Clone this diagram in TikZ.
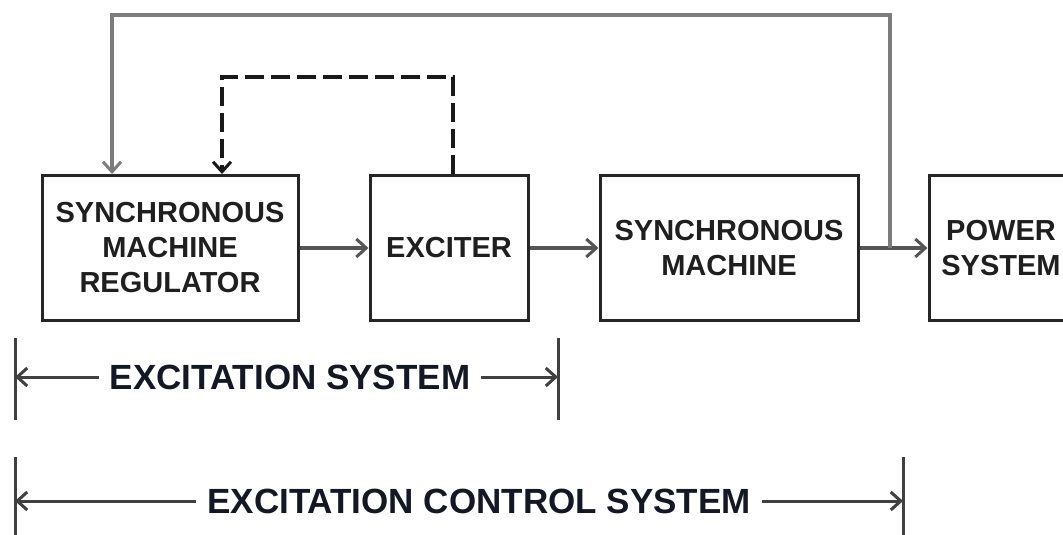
\documentclass[tikz,border=0pt]{standalone}
\usepackage{fontspec}
\setmainfont{Liberation Sans}
\usetikzlibrary{arrows.meta}
\definecolor{boxline}{HTML}{262626}
\definecolor{wire}{HTML}{555555}
\definecolor{fbwire}{HTML}{7C7C7C}
\definecolor{labeltext}{HTML}{141824}
\tikzset{
  block/.style={draw=boxline, line width=3pt, rectangle, inner sep=0pt,
    minimum height=145pt, align=center, text=black!88,
    font=\fontsize{29}{35}\selectfont\bfseries},
  tip/.style={-{Straight Barb[length=10pt,width=18pt,line width=3pt]}},
  conn/.style={draw=wire, line width=3.2pt, tip},
  fbline/.style={draw=fbwire, line width=3.4pt, tip},
  dashline/.style={draw=black!90, line width=3.4pt, dash pattern=on 19pt off 7pt, tip},
  bar/.style={draw=black!75, line width=3pt},
  dimarrow/.style={draw=black!75, line width=3pt, tip},
  dimlabel/.style={inner ysep=0pt, text=labeltext,
    font=\fontsize{35}{40}\selectfont\bfseries}
}
\begin{document}
\begin{tikzpicture}[x=1pt, y=-1pt]
  \useasboundingbox (0,0) rectangle (1063,535);
  \clip (0,0) rectangle (1063,535);

  % blocks of the loop
  \node[block, minimum width=256pt] (smr) at (170,248) {SYNCHRONOUS\\MACHINE\\REGULATOR};
  \node[block, minimum width=158pt] (exc) at (449,248) {EXCITER};
  \node[block, minimum width=258pt] (sm)  at (729,248) {SYNCHRONOUS\\MACHINE};
  \node[block, minimum width=144pt] (ps)  at (1001,248) {POWER\\SYSTEM};

  % forward path
  \draw[conn] (smr.east) -- (exc.west);
  \draw[conn] (exc.east) -- (sm.west);
  \draw[conn] (sm.east) -- (ps.west);

  % measured output fed back to the regulator
  \coordinate (tap) at (890,248);
  \coordinate (fbR) at (890,15);
  \coordinate (fbL) at (112,15);
  \draw[fbline] (tap) -- (fbR) -- (fbL) -- (fbL |- smr.north);

  % exciter feedback (dashed)
  \coordinate (dR) at (453,77);
  \coordinate (dL) at (222,77);
  \draw[dashline] (dR |- exc.north) -- (dR) -- (dL) -- (dL |- smr.north);

  % extent of the excitation system
  \coordinate (a1t) at (15,338);   \coordinate (a1b) at (15,420);
  \coordinate (a2t) at (558,338);  \coordinate (a2b) at (558,420);
  \draw[bar] (a1t) -- (a1b);
  \draw[bar] (a2t) -- (a2b);
  \node[dimlabel, inner xsep=11pt] (es) at (290,377) {EXCITATION SYSTEM};
  \draw[dimarrow] (es.west) -- (es.west -| a1t);
  \draw[dimarrow] (es.east) -- (es.east -| a2t);

  % extent of the excitation control system
  \coordinate (b1t) at (15,457);   \coordinate (b1b) at (15,540);
  \coordinate (b2t) at (903,457);  \coordinate (b2b) at (903,540);
  \draw[bar] (b1t) -- (b1b);
  \draw[bar] (b2t) -- (b2b);
  \node[dimlabel, inner xsep=11pt] (ecs) at (479,501) {EXCITATION CONTROL SYSTEM};
  \draw[dimarrow] (ecs.west) -- (ecs.west -| b1t);
  \draw[dimarrow] (ecs.east) -- (ecs.east -| b2t);
\end{tikzpicture}
\end{document}
